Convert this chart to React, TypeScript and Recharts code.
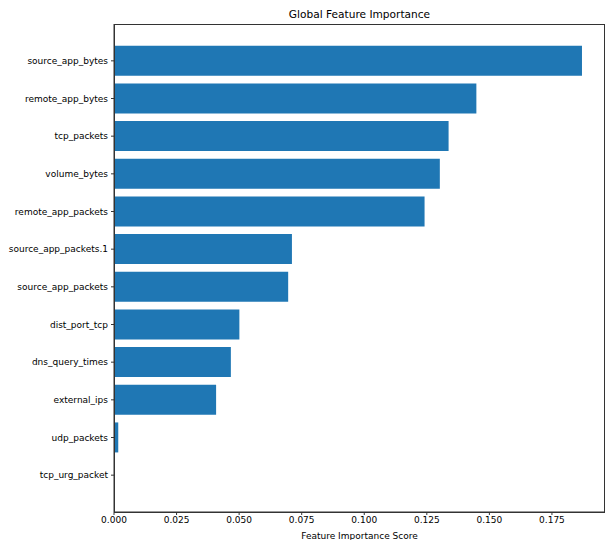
import { BarChart, Bar, XAxis, YAxis, Label } from "recharts";

const FEATURES = [
  "source_app_bytes",
  "remote_app_bytes",
  "tcp_packets",
  "volume_bytes",
  "remote_app_packets",
  "source_app_packets.1",
  "source_app_packets",
  "dist_port_tcp",
  "dns_query_times",
  "external_ips",
  "udp_packets",
  "tcp_urg_packet",
];

const IMPORTANCE = [
  0.187, 0.1448, 0.1337, 0.1302, 0.1241, 0.0711, 0.0696, 0.0501, 0.0467, 0.0408,
  0.0017, 0,
];

const X_TICKS = [0, 0.025, 0.05, 0.075, 0.1, 0.125, 0.15, 0.175];

const chartData = FEATURES.map((name, i) => ({ name, score: IMPORTANCE[i] }));

const FONT = "'DejaVu Sans', sans-serif";
const TICK = { fontSize: 9, fill: "#000", fontFamily: FONT };

export default function App() {
  return (
    <div style={{ position: "absolute", left: 0, top: 0, width: 606, height: 540, background: "#fff" }}>
      <div
        style={{
          position: "absolute",
          left: 114,
          top: 8,
          width: 491,
          textAlign: "center",
          fontFamily: FONT,
          fontSize: 10.6,
          color: "#000",
        }}
      >
        Global Feature Importance
      </div>
      <BarChart
        width={606}
        height={540}
        data={chartData}
        layout="vertical"
        margin={{ top: 24, right: 1, left: 0, bottom: 0 }}
        barCategoryGap="10%"
      >
        <XAxis
          type="number"
          domain={[0, 0.1962]}
          ticks={X_TICKS}
          tickFormatter={(v: number) => v.toFixed(3)}
          allowDataOverflow
          height={28}
          tick={TICK}
          tickSize={3}
          tickMargin={2}
          axisLine={{ stroke: "#333" }}
          tickLine={{ stroke: "#333" }}
        >
          <Label
            value="Feature Importance Score"
            position="insideBottom"
            offset={1}
            style={{ fontSize: 9, fill: "#000", fontFamily: FONT }}
          />
        </XAxis>
        <YAxis
          type="category"
          dataKey="name"
          width={114}
          padding={{ top: 18, bottom: 18 }}
          interval={0}
          tick={TICK}
          tickSize={3}
          tickMargin={3}
          axisLine={{ stroke: "#333" }}
          tickLine={{ stroke: "#333" }}
        />
        <Bar dataKey="score" fill="#1f77b4" isAnimationActive={false} />
      </BarChart>
      <div
        style={{
          position: "absolute",
          left: 114,
          top: 24,
          width: 491,
          height: 489,
          border: "1px solid #333",
          boxSizing: "border-box",
          pointerEvents: "none",
        }}
      />
    </div>
  );
}
